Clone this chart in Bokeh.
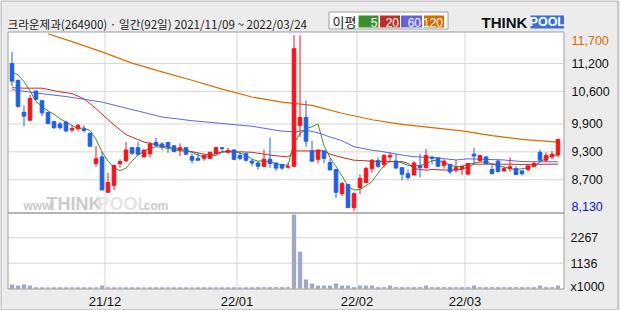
from bokeh.plotting import figure
from bokeh.models import Range1d, ColumnDataSource
from bokeh.core.properties import value
from bokeh.embed import file_html
from bokeh.resources import INLINE

# ---------------- data ----------------
title_text = "크라운제과(264900) · 일간(92일) 2021/11/09 ~ 2022/03/24"
month_labels = ["21/12", "22/01", "22/02", "22/03"]
month_start_idx = [16, 38, 58, 76]
price_ticks = [11200, 10600, 9900, 9300, 8700]
price_max, price_min = 11700, 8130
vol_ticks = [2267, 1136]
vol_unit = "x1000"
ma_names = ["5", "20", "60", "120"]
ma_colors = ["#3d8f2b", "#bf2f2a", "#6464d8", "#d86c00"]

opens = [11200, 10840, 10150, 9980, 10610, 10400, 10150, 9950, 9900, 9940,
         9770, 9800, 9790, 9700, 9050, 9190, 8430, 8580, 9050, 9110,
         9390, 9390, 9190, 9260, 9500, 9470, 9500, 9430, 9340, 9390,
         9200, 9160, 9160, 9160, 9260, 9390, 9290, 9340, 9220, 9260,
         9100, 9060, 8990, 9140, 9060, 9030, 8970, 8990, 9870, 10040,
         9320, 9140, 9320, 9070, 8920, 8400, 8600, 8100, 8530, 8640,
         8940, 9110, 9030, 9190, 9100, 8960, 8830, 8800, 9000, 8960,
         9190, 9170, 9010, 9030, 8910, 8940, 8820, 9250, 9110, 9190,
         8920, 9100, 8890, 8940, 8940, 8890, 8920, 8990, 9290, 9120,
         9190, 9230]
closes = [10820, 10280, 10070, 10450, 10430, 10140, 9910, 9820, 9820, 9750,
          9800, 9870, 9760, 9420, 9150, 8480, 8640, 9010, 9090, 9340,
          9270, 9250, 9340, 9470, 9440, 9410, 9410, 9310, 9390, 9250,
          9120, 9120, 9220, 9290, 9390, 9370, 9330, 9140, 9160, 9120,
          9060, 8990, 9140, 9050, 8950, 8950, 8990, 11520, 10040, 9530,
          9100, 9340, 9160, 8910, 8430, 8620, 8100, 8400, 8730, 8940,
          9120, 8990, 9220, 9220, 8950, 8820, 8750, 9060, 8960, 9220,
          9160, 8990, 9100, 8870, 8960, 8990, 9050, 9210, 9220, 9050,
          8830, 8880, 8940, 8980, 8810, 8830, 9000, 9050, 9120, 9220,
          9250, 9570]
highs = [11450, 10840, 10300, 10530, 10610, 10400, 10150, 9970, 9940, 9970,
         9870, 9900, 9870, 9700, 9430, 9300, 8850, 9010, 9140, 9510,
         9390, 9520, 9340, 9520, 9600, 9510, 9500, 9430, 9480, 9390,
         9260, 9280, 9250, 9290, 9410, 9390, 9390, 9350, 9290, 9260,
         9140, 9100, 9350, 9610, 9060, 9030, 9060, 11810, 11810, 10400,
         9540, 9340, 9320, 9160, 8920, 8650, 8600, 8430, 8820, 8980,
         9140, 9180, 9250, 9290, 9250, 8960, 8920, 9100, 9260, 9360,
         9190, 9170, 9140, 9030, 9120, 8990, 9060, 9390, 9220, 9210,
         9050, 9140, 8980, 9180, 8990, 8890, 9000, 9090, 9350, 9290,
         9320, 9570]
lows = [10710, 10250, 9850, 9980, 10430, 10070, 9900, 9790, 9780, 9720,
        9720, 9740, 9720, 9420, 8980, 8480, 8420, 8480, 8960, 9080,
        9240, 9230, 9190, 9180, 9410, 9340, 9280, 9290, 9210, 9240,
        9050, 9110, 9110, 9160, 9250, 9290, 9290, 9120, 9120, 9090,
        8990, 8920, 8990, 8950, 8890, 8910, 8940, 8980, 9620, 9410,
        9100, 9050, 9060, 8910, 8310, 8350, 8100, 8030, 8390, 8640,
        8850, 8950, 8960, 9100, 8950, 8690, 8690, 8800, 8750, 8940,
        9030, 8980, 8940, 8820, 8850, 8800, 8820, 9030, 9090, 9030,
        8820, 8850, 8870, 8870, 8810, 8790, 8880, 8960, 9110, 9090,
        9140, 9180]
volumes = [190, 140, 190, 140, 70, 70, 70, 70, 70, 70,
           70, 70, 70, 70, 70, 140, 70, 70, 70, 70,
           70, 70, 70, 70, 70, 70, 70, 70, 70, 70,
           70, 70, 70, 70, 70, 70, 70, 70, 70, 70,
           70, 70, 70, 70, 70, 70, 70, 3300, 1650, 410,
           230, 140, 140, 140, 230, 140, 140, 70, 140, 140,
           140, 70, 70, 140, 70, 70, 70, 70, 70, 140,
           70, 70, 70, 70, 70, 70, 70, 140, 70, 70,
           70, 70, 70, 70, 70, 70, 70, 70, 140, 70,
           70, 140]

ma5 = [11010, 10960, 10810, 10610, 10380, 10280, 10180, 10110, 10010, 9940,
       9870, 9800, 9815, 9760, 9570, 9300, 9100, 8960, 8890, 8950,
       9100, 9230, 9310, 9380, 9410, 9395, 9375, 9345, 9320, 9320,
       9290, 9230, 9190, 9200, 9230, 9290, 9320, 9315, 9270, 9230,
       9140, 9100, 9110, 9080, 9050, 9020, 9010, 9490, 9690, 9800,
       9840, 9900, 9430, 9180, 8980, 8780, 8560, 8480, 8490, 8570,
       8660, 8840, 9000, 9090, 9100, 9060, 9010, 8995, 9010, 9035,
       9110, 9120, 9070, 9020, 8980, 8990, 9030, 9060, 9080, 9085,
       9040, 9000, 8975, 8940, 8920, 8935, 8960, 8995, 9080, 9160,
       9215, 9240]
ma20_x = [0, 2, 5, 8, 10, 12, 14, 15, 17, 19, 22, 26, 29, 32, 33, 35, 38, 40, 43,
          46, 47, 52, 53, 55, 57, 60, 65, 66, 67, 69, 70, 73, 75, 76, 77, 82, 85, 91]
ma20 = [10680, 10670, 10670, 10590, 10555, 10440, 10230, 10110, 9880, 9670,
        9510, 9400, 9330, 9250, 9230, 9300, 9300, 9290, 9230, 9190,
        9320, 9320, 9250, 9180, 9120, 9100, 9090, 9050, 8940, 8905,
        8920, 8905, 8920, 8980, 9035, 9035, 9030, 9035]
ma60_x = [0, 5, 9, 15, 20, 25, 30, 35, 40, 45, 47, 49, 51, 53, 55, 57, 60, 62,
          65, 67, 70, 74, 76, 82, 85, 91]
ma60 = [10640, 10550, 10490, 10370, 10210, 10050, 9970, 9910, 9850, 9745,
        9730, 9765, 9710, 9620, 9540, 9410, 9335, 9300, 9230, 9195,
        9180, 9125, 9150, 9125, 9090, 9085]
ma120_x = [6, 10, 15, 20, 25, 30, 35, 40, 45, 50, 55, 60, 65, 70, 75, 80, 85, 91]
ma120 = [11840, 11670, 11450, 11210, 11020, 10840, 10650, 10480, 10370, 10300,
         10130, 9990, 9890, 9820, 9750, 9650, 9570, 9510]

# ---------------- layout helpers (pixel -> data) ----------------
W, H = 620, 310
PX0, PXS = 11.5, 6.0
def X(px):
    return (px - PX0) / PXS
P_REF, PY_REF, PY_K = 9940.0, 121.6, 0.04648
def Y(py):
    return P_REF + (PY_REF - py) / PY_K
VY0, VY_K = 288.2, 0.022458
def VV(py):
    return (VY0 - py) / VY_K

UP, DOWN = "#f0161c", "#1e5fe3"
CJK = value("Noto Sans CJK KR")
LAT = value("Liberation Sans")

p = figure(width=W, height=H, x_range=Range1d(X(0), X(W)), y_range=Range1d(Y(H), Y(0)),
           output_backend="svg", toolbar_location=None, min_border=0,
           x_axis_type=None, y_axis_type=None)
p.extra_y_ranges = {"vol": Range1d(VV(H), VV(0))}
p.background_fill_color = "#ececec"
p.border_fill_color = "#ececec"
p.outline_line_color = None

# outer frame
p.quad(left=[X(0.5)], right=[X(617.5)], top=[Y(0.5)], bottom=[Y(309.5)],
       fill_color=None, line_color="#a8a8a8")
# panels
p.quad(left=[X(7.5)] * 2, right=[X(563.5)] * 2, top=[Y(31.5), Y(212.5)],
       bottom=[Y(212.5), Y(288.5)], fill_color="white", line_color=None)

# grid lines
gx = [i - 0.5 for i in month_start_idx]
p.segment(x0=gx, x1=gx, y0=[Y(32)] * len(gx), y1=[Y(288)] * len(gx),
          line_color="#d6d6d6", line_width=1)
p.segment(x0=[X(8)] * len(price_ticks), x1=[X(563)] * len(price_ticks),
          y0=price_ticks, y1=price_ticks, line_color="#d6d6d6", line_width=1)
p.segment(x0=[X(8)] * len(vol_ticks), x1=[X(563)] * len(vol_ticks),
          y0=vol_ticks, y1=vol_ticks, line_color="#d6d6d6", line_width=1,
          y_range_name="vol")

# watermark
p.text(x=[X(23)], y=[Y(205)], text=["www."], text_font=LAT, text_font_size="12px",
       text_font_style="bold", text_color="#cacaca", text_baseline="middle")
p.text(x=[X(46)], y=[Y(203)], text=["THINK"], text_font=LAT, text_font_size="18px",
       text_font_style="bold", text_color="#cccccc", text_baseline="middle")
p.text(x=[X(97)], y=[Y(203)], text=["POOL"], text_font=LAT, text_font_size="18px",
       text_font_style="bold", text_color="#e4e4e4", text_baseline="middle")
p.text(x=[X(140)], y=[Y(205)], text=[".com"], text_font=LAT, text_font_size="12px",
       text_font_style="bold", text_color="#cacaca", text_baseline="middle")

# volume
idx = list(range(len(opens)))
p.vbar(x=idx, top=volumes, bottom=0, width=0.72, fill_color="#a0a9c4",
       line_color=None, y_range_name="vol")

# moving averages
p.line(x=idx, y=ma5, line_color=ma_colors[0], line_width=1)
p.line(x=ma20_x, y=ma20, line_color=ma_colors[1], line_width=1)
p.line(x=ma60_x, y=ma60, line_color=ma_colors[2], line_width=1)
p.line(x=ma120_x, y=ma120, line_color=ma_colors[3], line_width=1.2)

# candles
colors = [UP if c >= o else DOWN for o, c in zip(opens, closes)]
src = ColumnDataSource(dict(x=idx, o=opens, c=closes, h=highs, l=lows,
                            top=[max(o, c) for o, c in zip(opens, closes)],
                            bot=[min(o, c) for o, c in zip(opens, closes)],
                            col=colors))
p.segment(x0="x", x1="x", y0="h", y1="l", line_color="col", line_width=1, source=src)
p.vbar(x="x", top="top", bottom="bot", width=0.6, fill_color="col",
       line_color="col", line_width=1, source=src)

# panel borders
p.quad(left=[X(7.5)] * 2, right=[X(563.5)] * 2, top=[Y(31.5), Y(212.5)],
       bottom=[Y(212.5), Y(288.5)], fill_color=None, line_color="#9c9c9c")

# title
p.text(x=[X(7)], y=[Y(23)], text=[title_text], text_font=CJK, text_font_size="11.6px",
       text_color="#1a1a1a", text_baseline="middle")

# legend box
p.quad(left=[X(328.5)], right=[X(447.5)], top=[Y(11.5)], bottom=[Y(28.5)],
       fill_color="white", line_color="#a0a0a0")
p.text(x=[X(332)], y=[Y(20.5)], text=["이평"], text_font=CJK, text_font_size="13px",
       text_color="#111111", text_baseline="middle")
box_l = [358, 379.5, 400.5, 423.5]
box_r = [378, 399.5, 421.5, 443.5]
p.quad(left=[X(v) for v in box_l], right=[X(v) for v in box_r],
       top=[Y(15)] * 4, bottom=[Y(27)] * 4, fill_color=ma_colors, line_color=None)
p.text(x=[X(v - 1) for v in box_r], y=[Y(21.5)] * 4, text=ma_names, text_font=LAT,
       text_font_size="12px", text_color="white", text_align="right",
       text_baseline="middle")

# logo
p.text(x=[X(481)], y=[Y(21.5)], text=["THINK"], text_font=LAT, text_font_size="15px",
       text_font_style="bold", text_color="#111111", text_baseline="middle")
p.quad(left=[X(530)], right=[X(563.5)], top=[Y(15)], bottom=[Y(28)],
       fill_color="#3b6fd8", line_color=None)
p.text(x=[X(546.8)], y=[Y(21.8)], text=["POOL"], text_font=LAT, text_font_size="12.5px",
       text_font_style="bold", text_color="white", text_align="center",
       text_baseline="middle")

# price labels
p.text(x=[X(571)] * len(price_ticks), y=price_ticks,
       text=[f"{v:,}" for v in price_ticks], text_font=LAT, text_font_size="12.5px",
       text_color="#111111", text_baseline="middle")
p.text(x=[X(571)], y=[price_max], text=[f"{price_max:,}"], text_font=LAT,
       text_font_size="12.5px", text_color="#d46a00", text_baseline="middle")
p.text(x=[X(571)], y=[price_min], text=[f"{price_min:,}"], text_font=LAT,
       text_font_size="12.5px", text_color="#1414c0", text_baseline="middle")

# volume labels
p.text(x=[X(570)] * len(vol_ticks), y=vol_ticks, text=[str(v) for v in vol_ticks],
       text_font=LAT, text_font_size="12.5px", text_color="#111111",
       text_baseline="middle", y_range_name="vol")
p.text(x=[X(570)], y=[Y(286)], text=[vol_unit], text_font=LAT, text_font_size="12.5px",
       text_color="#111111", text_baseline="middle")

# month labels
p.text(x=gx, y=[Y(300.5)] * len(gx), text=month_labels, text_font=LAT,
       text_font_size="13px", text_color="#111111", text_align="center",
       text_baseline="middle")

open("out.html", "w").write(file_html(p, INLINE))
